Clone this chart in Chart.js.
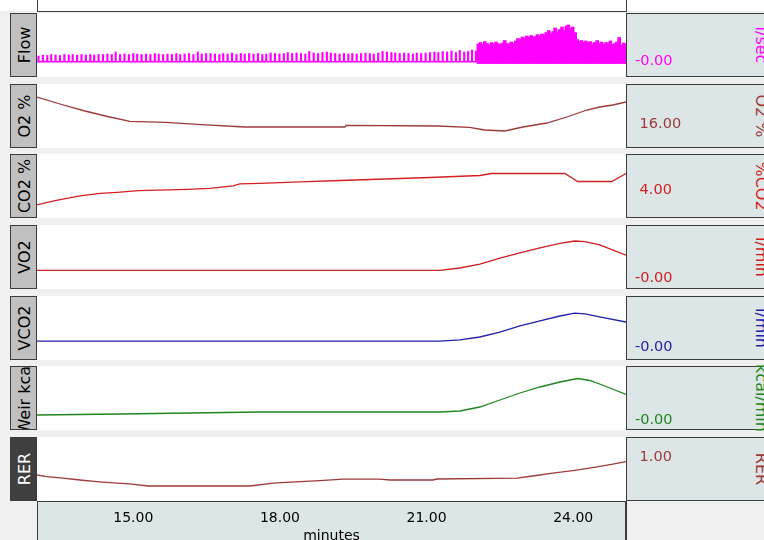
<!DOCTYPE html>
<html>
<head>
<meta charset="utf-8">
<script src="https://cdn.jsdelivr.net/npm/chart.js@4.4.1/dist/chart.umd.min.js"></script>
<style>
  html, body { margin: 0; padding: 0; }
  body { width: 764px; height: 540px; overflow: hidden; position: relative; background: #f0f0f0; font-family: "DejaVu Sans", sans-serif; }
  .abs { position: absolute; box-sizing: border-box; }
  .lbl { background: #c0c0c0; border: 1.5px solid #3c3c3c; overflow: hidden; }
  .lbl.dark { background: #3f3f3f; }
  .lbl span { position: absolute; left: 50%; top: 50%; transform: translate(-50%, -50%) rotate(-90deg); white-space: nowrap; font-size: 16px; color: #000; }
  .lbl.dark span { color: #fff; }
  .plot { background: #fff; }
  .panel { background: #dde6e6; border: 1.5px solid #3c3c3c; border-right: none; overflow: hidden; }
  .unit { position: absolute; white-space: nowrap; font-size: 16px; transform: translate(-50%, -50%) rotate(90deg); }
  canvas { position: absolute; }
</style>
</head>
<body>
<script>
// ---- time axis ----
const xMin = 13.03;
const xMax = 25.08;
const timeTicks = [15, 18, 21, 24];

// ---- channel names / units / the single value shown in the right panel ----
const channelNames = ['Flow', 'O2 %', 'CO2 %', 'VO2', 'VCO2', 'Weir kcal', 'RER'];
const channelUnits = ['l/sec', 'O2 %', '%CO2', 'l/min', 'l/min', 'kcal/min', 'RER'];
const panelValues = [-0.001, 16, 4, -0.001, -0.001, -0.001, 1];

// ---- Flow (l/sec), one spike per breath ----
const flowRestTime = [
  13.06, 13.15, 13.24, 13.32, 13.41, 13.50, 13.59, 13.68, 13.76, 13.85,
  13.94, 14.03, 14.12, 14.20, 14.29, 14.38, 14.47, 14.56, 14.64, 14.73,
  14.82, 14.91, 15.00, 15.08, 15.17, 15.26, 15.35, 15.44, 15.52, 15.61,
  15.70, 15.79, 15.88, 15.96, 16.05, 16.14, 16.23, 16.32, 16.40, 16.49,
  16.58, 16.67, 16.76, 16.84, 16.93, 17.02, 17.11, 17.20, 17.28, 17.37,
  17.46, 17.55, 17.64, 17.72, 17.81, 17.90, 17.99, 18.08, 18.16, 18.25,
  18.34, 18.43, 18.52, 18.60, 18.69, 18.78, 18.87, 18.96, 19.04, 19.13,
  19.22, 19.31, 19.40, 19.48, 19.57, 19.66, 19.75, 19.84, 19.92, 20.01,
  20.10, 20.19, 20.28, 20.36, 20.45, 20.54, 20.63, 20.72, 20.80, 20.89,
  20.98, 21.07, 21.16, 21.24, 21.33, 21.42, 21.51, 21.60, 21.68, 21.77,
  21.85, 21.93, 22.01
];
const flowRestPeak = [
  0.55, 0.65, 0.60, 0.70, 0.65, 0.60, 0.70, 0.65, 0.70, 0.65,
  0.70, 0.65, 0.70, 0.65, 0.70, 0.70, 0.75, 0.70, 0.95, 0.70,
  0.75, 0.70, 0.80, 0.75, 0.70, 0.75, 0.70, 0.80, 0.75, 0.70,
  0.75, 0.70, 0.80, 0.70, 0.75, 0.80, 0.70, 0.95, 0.75, 0.80,
  0.80, 0.75, 0.70, 0.80, 0.75, 0.85, 0.70, 0.80, 0.75, 0.80,
  0.75, 0.80, 0.70, 0.75, 0.85, 0.80, 0.75, 0.80, 0.90, 0.80,
  0.85, 0.80, 0.75, 1.00, 0.85, 0.80, 0.90, 0.95, 0.85, 0.80,
  0.75, 0.80, 0.75, 0.80, 0.75, 0.80, 0.85, 0.80, 0.75, 0.85,
  1.00, 0.95, 0.90, 0.85, 0.80, 0.85, 0.80, 0.75, 0.85, 0.80,
  0.85, 0.90, 0.95, 0.90, 1.00, 0.95, 1.05, 0.90, 1.10, 0.95,
  1.00, 1.15, 1.05
];
const flowExTime = [
  22.06, 22.10, 22.15, 22.19, 22.24, 22.28, 22.33, 22.37, 22.42, 22.46,
  22.51, 22.55, 22.60, 22.64, 22.69, 22.73, 22.78, 22.82, 22.87, 22.91,
  22.96, 23.00, 23.05, 23.09, 23.14, 23.18, 23.23, 23.27, 23.32, 23.36,
  23.41, 23.45, 23.50, 23.54, 23.59, 23.63, 23.68, 23.72, 23.77, 23.81,
  23.86, 23.90, 23.95, 23.99, 24.04, 24.08, 24.13, 24.17, 24.22, 24.26,
  24.31, 24.35, 24.40, 24.44, 24.49, 24.53, 24.58, 24.62, 24.67, 24.71,
  24.76, 24.80, 24.85, 24.89, 24.94, 24.98, 25.03, 25.07
];
const flowExPeak = [
  1.75, 1.90, 1.70, 2.00, 1.80, 1.65, 1.90, 1.75, 1.95, 1.80,
  1.70, 1.85, 2.10, 1.80, 1.75, 1.95, 1.80, 2.05, 2.30, 2.20,
  2.45, 2.35, 2.55, 2.40, 2.60, 2.45, 2.50, 2.70, 2.55, 2.75,
  2.65, 2.90, 3.10, 2.80, 3.00, 3.35, 2.95, 3.20, 3.45, 3.10,
  3.55, 3.65, 3.30, 3.45, 2.90, 2.20, 2.00, 2.10, 1.90, 2.05,
  1.85, 2.00, 1.75, 1.90, 2.10, 1.80, 1.95, 1.70, 1.90, 1.85,
  2.05, 1.70, 1.80, 1.95, 2.40, 1.65, 1.85, 1.75
];
const flowExTrough = -0.2;

// ---- O2 % ----
const o2Time = [13.03, 13.50, 14.01, 14.52, 14.93, 15.67, 16.30, 17.28, 19.33, 19.35, 21.23, 21.88, 22.19, 22.60, 22.97, 23.46, 23.87, 24.28, 24.54, 24.81, 25.08];
const o2Pct = [17.35, 17.00, 16.65, 16.35, 16.13, 16.08, 15.98, 15.85, 15.85, 15.93, 15.90, 15.83, 15.70, 15.65, 15.85, 16.05, 16.35, 16.70, 16.85, 16.95, 17.10];

// ---- CO2 % ----
const co2Time = [13.03, 13.40, 13.64, 13.91, 14.32, 14.67, 15.10, 16.10, 16.57, 17.04, 17.18, 17.59, 18.41, 19.23, 20.45, 21.07, 22.09, 22.33, 23.83, 24.09, 24.79, 25.08];
const co2Pct = [3.28, 3.49, 3.61, 3.73, 3.86, 3.91, 3.99, 4.06, 4.11, 4.23, 4.33, 4.36, 4.43, 4.50, 4.60, 4.65, 4.75, 4.85, 4.85, 4.45, 4.45, 4.85];

// ---- VO2 / VCO2 (l/min) ----
const vo2Time = [13.03, 21.27, 21.68, 22.09, 22.50, 22.91, 23.32, 23.73, 24.03, 24.24, 24.54, 25.08];
const vo2 = [0.27, 0.27, 0.35, 0.48, 0.68, 0.85, 1.02, 1.17, 1.25, 1.23, 1.12, 0.78];
const vco2Time = [13.03, 21.27, 21.68, 22.09, 22.50, 22.91, 23.32, 23.73, 24.03, 24.24, 24.54, 25.08];
const vco2 = [0.23, 0.23, 0.27, 0.375, 0.55, 0.77, 0.95, 1.125, 1.23, 1.20, 1.09, 0.91];

// ---- Weir (kcal/min) ----
const weirTime = [13.03, 14.73, 17.59, 21.27, 21.68, 22.09, 22.50, 22.91, 23.32, 23.73, 24.09, 24.34, 24.65, 25.08];
const weirKcal = [1.0, 1.2, 1.6, 1.6, 1.8, 2.6, 4.0, 5.4, 6.6, 7.6, 8.3, 7.9, 6.8, 5.1];

// ---- RER ----
const rerTime = [13.03, 13.23, 13.56, 13.91, 14.25, 14.52, 14.97, 15.30, 17.39, 17.86, 18.41, 18.82, 19.29, 20.04, 20.25, 21.13, 21.21, 22.85, 23.17, 23.58, 23.99, 24.40, 24.81, 25.08];
const rer = [0.910, 0.902, 0.894, 0.885, 0.877, 0.872, 0.864, 0.855, 0.855, 0.869, 0.877, 0.882, 0.889, 0.889, 0.885, 0.885, 0.890, 0.894, 0.905, 0.919, 0.932, 0.947, 0.964, 0.977];

// ---- layout ----
const rowTops = [13, 84, 154, 225, 296, 366, 437];
const rowH = 64;
const colors = ['#ff00ff', '#9c3a3a', '#d42020', '#cc1f1f', '#2222a8', '#1f861f', '#9c3a3a'];
const yRanges = [[-1.55, 4.85], [14.8, 18.0], [2.625, 5.825], [-0.35, 1.783], [-0.446, 1.839], [-2.0, 10.8], [0.78, 1.10]];

Chart.defaults.font.family = '"DejaVu Sans", sans-serif';

function addDiv(cls, left, top, width, height, html) {
    const d = document.createElement('div');
    d.className = 'abs ' + cls;
    d.style.left = left + 'px';
    d.style.top = top + 'px';
    if (width != null) d.style.width = width + 'px';
    if (height != null) d.style.height = height + 'px';
    if (html) d.innerHTML = html;
    document.body.appendChild(d);
    return d;
}

const pts = (xs, ys) => xs.map((t, i) => ({ x: t, y: ys[i] }));

// top strip
addDiv('', 0, 0, 764, 11).style.background = '#fff';
addDiv('', 37, 10.5, 589, 1.5).style.background = '#3c3c3c';
addDiv('', 36.5, 0, 1.2, 12).style.background = '#3c3c3c';
addDiv('', 625.5, 0, 1.2, 12).style.background = '#3c3c3c';

// bottom time axis background
const axBox = addDiv('panel', 37, 501, 589, 45);
axBox.style.borderRight = '1.5px solid #3c3c3c';
const axRight = addDiv('', 626, 501, 140, 45);
axRight.style.background = '#f0f0f0';
axRight.style.borderLeft = '1.5px solid #3c3c3c';

function buildChart(i, datasets, showX) {
    const top = rowTops[i];
    addDiv('plot', 37, top, 589, rowH);
    addDiv('lbl' + (i === 6 ? ' dark' : ''), 10, top, 27, rowH, '<span>' + channelNames[i] + '</span>');
    addDiv('panel', 626, top, 140, rowH);
    const u = addDiv('', 0, 0, null, null);
    u.className = 'unit';
    u.style.left = '761px';
    u.style.top = (top + rowH / 2) + 'px';
    u.style.color = colors[i];
    u.textContent = channelUnits[i];

    const canvas = document.createElement('canvas');
    canvas.width = 727;
    canvas.height = showX ? rowH + 44 : rowH;
    canvas.style.left = '37px';
    canvas.style.top = top + 'px';
    document.body.appendChild(canvas);

    const isFlow = i === 0;
    return new Chart(canvas, {
        type: isFlow ? 'bar' : 'line',
        data: { datasets: datasets },
        options: {
            responsive: false,
            animation: false,
            events: [],
            layout: { padding: 0, autoPadding: false },
            plugins: { legend: { display: false }, tooltip: { enabled: false } },
            scales: {
                x: {
                    type: 'linear',
                    min: xMin,
                    max: xMax,
                    offset: false,
                    display: showX,
                    afterBuildTicks: (axis) => { axis.ticks = timeTicks.map(v => ({ value: v })); },
                    afterFit: (axis) => {
                        axis.height = showX ? 44 : 0;
                        axis.paddingLeft = 0;
                        axis.paddingRight = 0;
                    },
                    border: { display: false },
                    grid: { display: false, drawTicks: false },
                    ticks: { color: '#000', font: { size: 14 }, padding: 9, maxRotation: 0, autoSkip: false, callback: v => v.toFixed(2) },
                    title: { display: true, text: 'minutes', color: '#000', font: { size: 14 }, padding: 0 }
                },
                y: {
                    position: 'right',
                    min: yRanges[i][0],
                    max: yRanges[i][1],
                    afterBuildTicks: (axis) => { axis.ticks = [{ value: panelValues[i] }]; },
                    afterFit: (axis) => {
                        axis.width = 138;
                        axis.paddingTop = 0;
                        axis.paddingBottom = 0;
                    },
                    border: { display: false },
                    grid: { display: isFlow, color: colors[0], lineWidth: 1.5, drawTicks: false },
                    ticks: {
                        color: colors[i],
                        padding: 9,
                        font: { size: 14.5 },
                        callback: v => (v < 0 ? '' : ' ') + v.toFixed(2)
                    }
                }
            }
        }
    });
}

const lineStyle = (color) => ({ borderColor: color, borderWidth: 1.3, pointRadius: 0, tension: 0, fill: false });

// 1. Flow
buildChart(0, [
    {
        data: flowRestTime.map((t, i) => ({ x: t, y: [0, flowRestPeak[i]] })),
        backgroundColor: colors[0],
        barThickness: 1.5,
        grouped: false
    },
    {
        data: flowExTime.map((t, i) => ({ x: t, y: [flowExTrough, flowExPeak[i]] })),
        backgroundColor: colors[0],
        barThickness: 3,
        grouped: false
    }
], false);

// 2. O2 %
buildChart(1, [Object.assign({ data: pts(o2Time, o2Pct) }, lineStyle(colors[1]))], false);
// 3. CO2 %
buildChart(2, [Object.assign({ data: pts(co2Time, co2Pct) }, lineStyle(colors[2]))], false);
// 4. VO2
buildChart(3, [Object.assign({ data: pts(vo2Time, vo2) }, lineStyle(colors[3]))], false);
// 5. VCO2
buildChart(4, [Object.assign({ data: pts(vco2Time, vco2) }, lineStyle(colors[4]))], false);
// 6. Weir kcal
buildChart(5, [Object.assign({ data: pts(weirTime, weirKcal) }, lineStyle(colors[5]))], false);
// 7. RER with the time axis
buildChart(6, [Object.assign({ data: pts(rerTime, rer) }, lineStyle(colors[6]))], true);
</script>
</body>
</html>
